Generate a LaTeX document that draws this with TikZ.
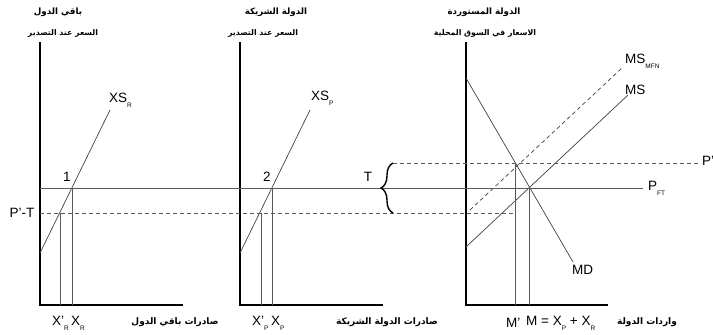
\documentclass[tikz,border=0pt]{standalone}
\usepackage{fontspec}
\setmainfont{Liberation Sans}
\newfontfamily\arabicfont[Script=Arabic]{DejaVu Sans}
\TeXXeTstate=1
\usetikzlibrary{decorations.pathreplacing}
\newcommand{\artxt}[1]{{\arabicfont\bfseries\beginR #1\endR}}
\newcommand{\lowsub}[1]{\raisebox{-0.7ex}{\fontsize{6.5}{6.5}\selectfont #1}}

\begin{document}
\begin{tikzpicture}[x=1pt,y=-1pt,
  axis/.style={line width=1.4pt},
  curve/.style={line width=0.7pt,black!75},
  guide/.style={line width=0.7pt,black!65},
  dashline/.style={guide,dash pattern=on 4pt off 3pt},
  lab/.style={inner sep=0pt,font=\fontsize{13.5}{14}\selectfont},
  title/.style={inner sep=0pt,font=\fontsize{8.7}{10}\selectfont},
  subtitle/.style={inner sep=0pt,font=\fontsize{7.8}{9}\selectfont},
  xlab/.style={inner sep=0pt,font=\fontsize{9}{10}\selectfont}]
\useasboundingbox (0,0) rectangle (713,335);
\coordinate (top1) at (40,42);
\coordinate (o1) at (40,305);
\coordinate (end1) at (183,305);
\coordinate (top2) at (240,42);
\coordinate (o2) at (240,305);
\coordinate (end2) at (383,305);
\coordinate (top3) at (466,42);
\coordinate (o3) at (466,305);
\coordinate (end3) at (608,305);
\draw[axis] (top1)--(o1)--(end1);
\draw[axis] (top2)--(o2)--(end2);
\draw[axis] (top3)--(o3)--(end3);
\coordinate (xsr0) at (40,253);
\coordinate (xsr1) at (110,110);
\coordinate (xsp0) at (240,253);
\coordinate (xsp1) at (310,110);
\coordinate (ms0) at (466,247);
\coordinate (ms1) at (628,95);
\coordinate (mfn0) at (470,210);
\coordinate (mfn1) at (623,67);
\coordinate (md0) at (466,78);
\coordinate (md1) at (573,262);
\draw[curve] (xsr0)--(xsr1);
\draw[curve] (xsp0)--(xsp1);
\draw[curve] (ms0)--(ms1);
\draw[curve,dash pattern=on 4pt off 3pt] (mfn0)--(mfn1);
\draw[curve] (md0)--(md1);
\coordinate (e1) at (72,188);
\coordinate (f1) at (60,213);
\coordinate (e2) at (272,188);
\coordinate (f2) at (261,213);
\coordinate (e3) at (529,188);
\coordinate (f3) at (515,163);
\coordinate (pft0) at (40,188);
\coordinate (pft1) at (643,188);
\coordinate (pt0) at (40,213);
\coordinate (pt1) at (515,213);
\coordinate (br0) at (393,213);
\coordinate (br1) at (393,163);
\coordinate (pp1) at (700,163);
\draw[guide] (pft0)--(pft1);
\draw[dashline] (pt0)--(pt1);
\draw[dashline] (br1)--(pp1);
\draw[guide] (e1)--(e1 |- o1);
\draw[guide] (f1)--(f1 |- o1);
\draw[guide] (e2)--(e2 |- o2);
\draw[guide] (f2)--(f2 |- o2);
\draw[guide] (e3)--(e3 |- o3);
\draw[guide] (f3)--(f3 |- o3);
\draw[decorate,decoration={brace,amplitude=12pt},line width=1.4pt] (br0)--(br1);
\node[title] (t1) at (58,12) {\artxt{باقي الدول}};
\node[subtitle] (s1) at (63,33) {\artxt{السعر عند التصدير}};
\node[title] (t2) at (276,12) {\artxt{الدولة الشريكة}};
\node[subtitle] (s2) at (263,33) {\artxt{السعر عند التصدير}};
\node[title] (t3) at (484,12) {\artxt{الدولة المستوردة}};
\node[subtitle] (s3) at (485,33) {\artxt{الاسعار في السوق المحلية}};
\node[lab,anchor=west] (lxsr) at (109,100) {XS\lowsub{R}};
\node[lab,anchor=west] (lxsp) at (311,98) {XS\lowsub{P}};
\node[lab,anchor=west] (lmfn) at (625,61) {MS\lowsub{MFN}};
\node[lab,anchor=west] (lms) at (625,90) {MS};
\node[lab,anchor=west] (lmd) at (572,270) {MD};
\node[lab,anchor=west] (lpft) at (648,188) {P\lowsub{FT}};
\node[lab,anchor=west] (lpp) at (702,161) {P'};
\node[lab] (l1) at (67,177) {1};
\node[lab] (l2) at (267,177) {2};
\node[lab] (lt) at (368,177) {T};
\node[lab] (lpt) at (22,213) {P'-T};
\node[lab,anchor=west] (lxr1) at (52,323) {X'\lowsub{R}};
\node[lab,anchor=west] (lxr) at (71,323) {X\lowsub{R}};
\node[lab,anchor=west] (lxp1) at (252,323) {X'\lowsub{P}};
\node[lab,anchor=west] (lxp) at (271,323) {X\lowsub{P}};
\node[lab,anchor=west] (lm1) at (506,323) {M'};
\node[lab,anchor=west] (lm) at (526,323) {M = X\lowsub{P} + X\lowsub{R}};
\node[xlab] (x1) at (175,322) {\artxt{صادرات باقي الدول}};
\node[xlab] (x2) at (387,322) {\artxt{صادرات الدولة الشريكة}};
\node[xlab] (x3) at (647,322) {\artxt{واردات الدولة}};
\end{tikzpicture}
\end{document}
